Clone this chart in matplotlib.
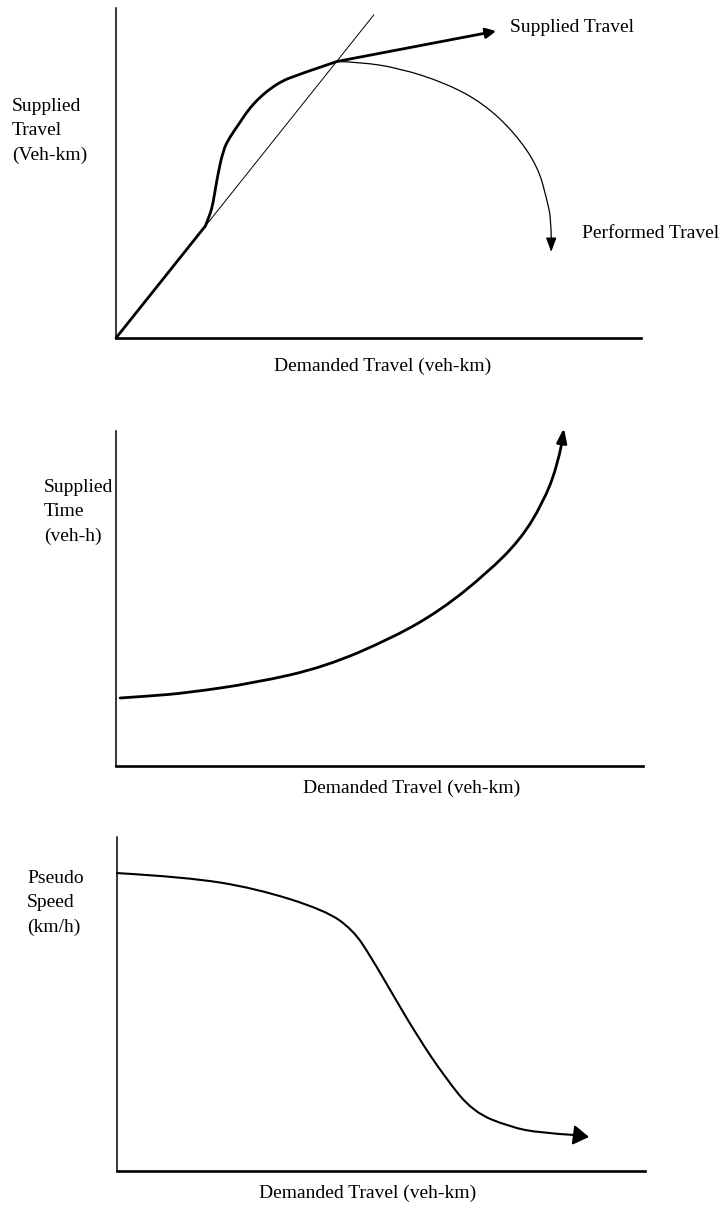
import matplotlib
matplotlib.use('Agg')
import matplotlib.pyplot as plt
from matplotlib.path import Path
from matplotlib.patches import PathPatch

plt.rcParams['font.family'] = ['Liberation Serif', 'DejaVu Serif']

# --- panel 1: supplied / performed travel vs demanded travel (0-100 units) ---
diag_x = [0, 49.1]
diag_y = [0, 97.9]

# straight start of the supplied curve, then the bend up to the capacity point
linear_x = [0, 17.0]
linear_y = [0, 33.9]
supplied_x = [17.0, 17.9, 18.5, 19.2, 20.4, 21.7, 23.0, 26.1, 30.7, 35.0, 42.1]
supplied_y = [33.9, 37.3, 40.9, 47.9, 57.0, 60.9, 63.9, 71.2, 77.3, 80.0, 83.8]
supplied_tip = (72.4, 93.0)

performed_x = [42.1, 46.5, 53.9, 62.7, 69.9, 76.0, 80.4, 82.1, 82.9, 82.9]
performed_y = [83.8, 83.6, 81.8, 77.3, 71.2, 62.1, 51.8, 41.8, 35.8, 29.7]
performed_tip = (82.9, 26.1)

# --- panel 2: supplied time ---
time_x = [0.8, 6.5, 13.3, 26.4, 39.7, 52.8, 61.7, 70.4, 76.7, 81.0, 83.7, 84.6]
time_y = [20.3, 20.9, 21.8, 24.8, 29.6, 38.5, 46.6, 57.6, 67.5, 78.5, 89.3, 96.4]
time_tip = (85.0, 100.9)

# --- panel 3: pseudo speed ---
speed_x = [0, 13.1, 26.1, 39.4, 44.7, 48.1, 52.5, 57.0, 62.1, 67.4, 74.4, 80.1, 86.4]
speed_y = [89.2, 88.0, 84.7, 78.1, 72.2, 64.1, 52.1, 40.1, 28.1, 17.7, 13.2, 11.4, 10.8]
speed_tip = (89.4, 10.2)

xlabel = 'Demanded Travel (veh-km)'

W, H = 726, 1210
fig = plt.figure(figsize=(W / 100, H / 100), dpi=100)


def frac(x, y):
    return x / W, 1 - y / H


def make_axes(left, top, right, bottom):
    ax = fig.add_axes([left / W, 1 - bottom / H, (right - left) / W, (bottom - top) / H])
    ax.set_xlim(0, 100)
    ax.set_ylim(0, 100)
    for s in ['top', 'right']:
        ax.spines[s].set_visible(False)
    ax.spines['left'].set_linewidth(1.1)
    ax.spines['bottom'].set_linewidth(1.9)
    ax.set_xticks([])
    ax.set_yticks([])
    return ax


def smooth(ax, xs, ys, lw):
    # quadratic bezier chain: inner points act as control points
    pts = list(zip(xs, ys))
    verts = [pts[0]]
    codes = [Path.MOVETO]
    for i in range(1, len(pts) - 2):
        mid = ((pts[i][0] + pts[i + 1][0]) / 2, (pts[i][1] + pts[i + 1][1]) / 2)
        verts += [pts[i], mid]
        codes += [Path.CURVE3, Path.CURVE3]
    verts += [pts[-2], pts[-1]]
    codes += [Path.CURVE3, Path.CURVE3]
    ax.add_patch(PathPatch(Path(verts, codes), fill=False, lw=lw, ec='black',
                           joinstyle='round', capstyle='round', clip_on=False))


def arrow(ax, start, tip, lw, hl, hw):
    ax.annotate('', xy=tip, xytext=start,
                arrowprops=dict(arrowstyle='-|>,head_length=%s,head_width=%s' % (hl, hw),
                                mutation_scale=10, lw=lw, color='black',
                                shrinkA=0, shrinkB=0),
                annotation_clip=False)


fs = 14

# panel 1
ax1 = make_axes(116, 8, 641, 338)
ax1.plot(diag_x, diag_y, color='black', lw=0.7, clip_on=False)
ax1.plot(linear_x, linear_y, color='black', lw=2.0, solid_capstyle='round', clip_on=False)
smooth(ax1, supplied_x, supplied_y, 2.0)
arrow(ax1, (supplied_x[-1], supplied_y[-1]), supplied_tip, 2.0, 0.6, 0.3)
smooth(ax1, performed_x, performed_y, 0.9)
arrow(ax1, (performed_x[-1], performed_y[-1]), performed_tip, 0.9, 0.86, 0.32)
fig.text(*frac(510, 28), 'Supplied Travel', fontsize=fs, va='center', ha='left')
fig.text(*frac(582, 233), 'Performed Travel', fontsize=fs, va='center', ha='left')
fig.text(*frac(12, 131), 'Supplied\nTravel\n(Veh-km)', fontsize=fs, va='center',
         ha='left', linespacing=1.55)
fig.text(*frac(383, 366), xlabel, fontsize=fs, va='center', ha='center')

# panel 2
ax2 = make_axes(116, 431, 643, 766)
smooth(ax2, time_x, time_y, 2.0)
arrow(ax2, (time_x[-1], time_y[-1]), time_tip, 2.0, 0.86, 0.3)
fig.text(*frac(44, 512), 'Supplied\nTime\n(veh-h)', fontsize=fs, va='center',
         ha='left', linespacing=1.55)
fig.text(*frac(412, 788), xlabel, fontsize=fs, va='center', ha='center')

# panel 3
ax3 = make_axes(117, 837, 645, 1171)
smooth(ax3, speed_x, speed_y, 1.5)
arrow(ax3, (speed_x[-1], speed_y[-1]), speed_tip, 1.5, 0.95, 0.6)
fig.text(*frac(27, 903), 'Pseudo\nSpeed\n(km/h)', fontsize=fs, va='center',
         ha='left', linespacing=1.55)
fig.text(*frac(368, 1193), xlabel, fontsize=fs, va='center', ha='center')

fig.savefig('out.png', dpi=100)
